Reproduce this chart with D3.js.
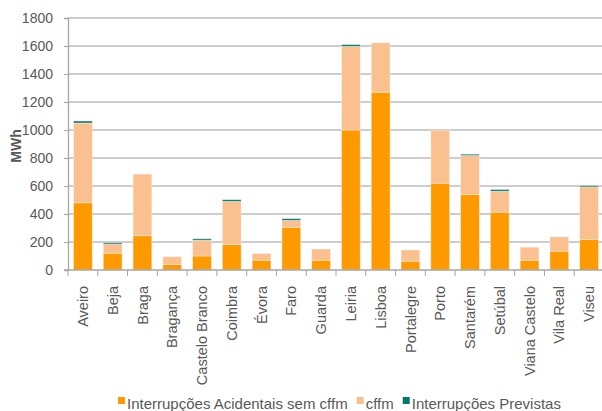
<!DOCTYPE html>
<html lang="pt">
<head>
<meta charset="UTF-8">
<title>Energia não distribuída por distrito</title>
<script src="https://cdnjs.cloudflare.com/ajax/libs/d3/7.8.5/d3.min.js"></script>
<style>
  body { margin: 0; background: #fff; }
  svg { display: block; }
  text { font-family: "Liberation Sans", Arial, sans-serif; fill: #595959; }
</style>
</head>
<body>
<svg width="602" height="411"></svg>
<script>
// data
const distritos = ["Aveiro", "Beja", "Braga", "Bragança", "Castelo Branco", "Coimbra", "Évora", "Faro", "Guarda",
  "Leiria", "Lisboa", "Portalegre", "Porto", "Santarém", "Setúbal", "Viana Castelo", "Vila Real", "Viseu"];
const acidentais = [480, 120, 245, 40, 100, 182, 70, 305, 70, 1000, 1270, 63, 620, 540, 413, 70, 134, 218];
const cffm = [570, 65, 440, 55, 113, 308, 48, 50, 80, 598, 353, 80, 378, 278, 150, 93, 103, 376];
const previstas = [14, 9, 0, 0, 10, 12, 0, 12, 0, 12, 0, 0, 0, 9, 12, 0, 0, 9];
const yTicks = [0, 200, 400, 600, 800, 1000, 1200, 1400, 1600, 1800];
const seriesNames = ["Interrupções Acidentais sem cffm", "cffm", "Interrupções Previstas"];
const colors = ["#ff9900", "#fac08f", "#00796b"];

const svg = d3.select("svg");
const m = { left: 68, right: 604, top: 18, bottom: 270 };

const rows = distritos.map((d, i) => ({ name: d, a: acidentais[i], c: cffm[i], p: previstas[i] }));
const stack = d3.stack().keys(["a", "c", "p"])(rows);

const x = d3.scaleBand().domain(distritos).range([m.left, m.right]).paddingInner(0.37).paddingOuter(0.185);
const y = d3.scaleLinear().domain([0, 1800]).range([m.bottom, m.top]);

// gridlines
svg.append("g").selectAll("line").data(yTicks.slice(1)).join("line")
  .attr("x1", m.left).attr("x2", m.right)
  .attr("y1", d => y(d)).attr("y2", d => y(d))
  .attr("stroke", "#bdbdbd").attr("stroke-width", 1.3);

// bars
svg.append("g").selectAll("g").data(stack).join("g")
  .attr("fill", (d, i) => colors[i])
  .selectAll("rect").data(d => d.filter(s => s[1] > s[0])).join("rect")
  .attr("x", d => x(d.data.name))
  .attr("width", x.bandwidth())
  .attr("y", d => y(d[1]))
  .attr("height", d => y(d[0]) - y(d[1]))
  .attr("stroke", "rgba(255,255,255,0.45)").attr("stroke-width", 0.8);

// y axis
const yAxis = svg.append("g").attr("transform", `translate(${m.left},0)`)
  .call(d3.axisLeft(y).tickValues(yTicks).tickFormat(d3.format("d")).tickSize(4).tickPadding(11));
yAxis.select(".domain").attr("stroke", "#a6a6a6").attr("stroke-width", 1.3);
yAxis.selectAll(".tick line").attr("stroke", "#a6a6a6");
yAxis.selectAll("text").attr("font-size", 14).attr("font-family", null).style("fill", "#595959");

// x axis
const xAxis = svg.append("g").attr("transform", `translate(0,${m.bottom})`)
  .call(d3.axisBottom(x).tickSize(0).tickSizeOuter(0));
xAxis.select(".domain").attr("stroke", "#a6a6a6").attr("stroke-width", 1.3)
  .attr("d", `M${m.left - 4},0H${m.right}`);
xAxis.selectAll(".tick line").remove();
xAxis.selectAll("text")
  .attr("font-size", 14.5).attr("font-family", null).style("fill", "#595959")
  .attr("transform", "rotate(-90)")
  .attr("text-anchor", "end")
  .attr("x", -16).attr("y", 0).attr("dy", "0.35em");
// category separators
svg.append("g").selectAll("line").data(distritos).join("line")
  .attr("x1", d => x(d) - x.step() * 0.185).attr("x2", d => x(d) - x.step() * 0.185)
  .attr("y1", m.bottom).attr("y2", m.bottom + 6)
  .attr("stroke", "#a6a6a6");

// y title
svg.append("text")
  .attr("transform", `translate(21,146) rotate(-90)`)
  .attr("text-anchor", "middle")
  .attr("font-size", 14).attr("font-weight", "bold")
  .text("MWh");

// legend
const legend = svg.append("g");
let lx = 118;
seriesNames.forEach((name, i) => {
  legend.append("rect").attr("x", lx).attr("y", 397).attr("width", 7).attr("height", 7).attr("fill", colors[i]);
  const t = legend.append("text").attr("x", lx + 9).attr("y", 409).attr("font-size", 15).text(name);
  lx += 9 + t.node().getComputedTextLength() + 9;
});
</script>
</body>
</html>
